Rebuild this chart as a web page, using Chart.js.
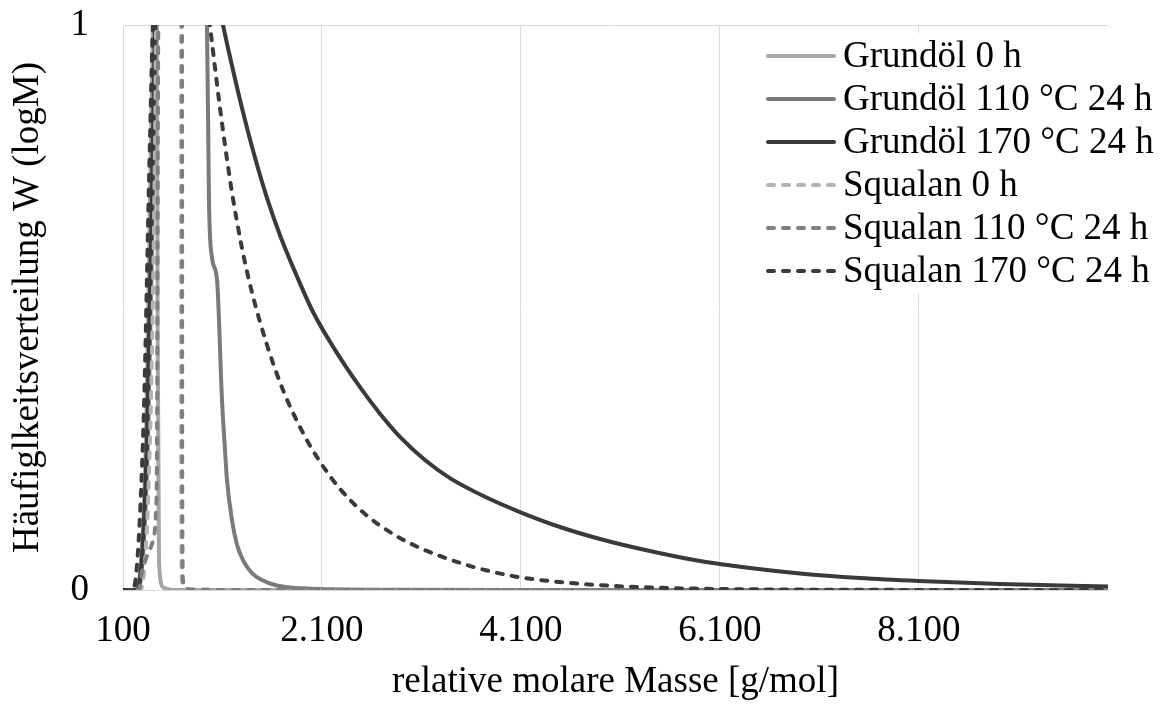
<!DOCTYPE html>
<html>
<head>
<meta charset="utf-8">
<script src="https://cdn.jsdelivr.net/npm/chart.js@4"></script>
<style>
  body { margin: 0; background: #fff; }
  #wrap { width: 1165px; height: 704px; }
</style>
</head>
<body>
<div id="wrap"><canvas id="chart"></canvas></div>
<script>
const seriesNames = ['Grundöl 0 h', 'Grundöl 110 °C 24 h', 'Grundöl 170 °C 24 h',
                     'Squalan 0 h', 'Squalan 110 °C 24 h', 'Squalan 170 °C 24 h'];

const xTicks = [100, 2100, 4100, 6100, 8100];
const yTicks = [0, 1];

// values (peaks are above the axis top and get clipped)
const grundoel0X = [100, 231, 331, 381, 401, 421, 442, 447, 462, 502, 600, 10000];
const grundoel0Y = [0, 0, 0.265, 0.796, 1.0, 1.3, 1.0, 0.5, 0.05, 0.005, 0, 0];

const grundoel110X = [100, 251, 351, 412, 432, 690, 944, 964, 994, 1045, 1095, 1125, 1145, 1195, 1246, 1306, 1396, 1497, 1628, 1778, 2080, 2884, 4000, 10000];
const grundoel110Y = [0, 0, 0.265, 0.796, 1.0, 1.45, 1.0, 0.69, 0.589, 0.549, 0.336, 0.248, 0.195, 0.124, 0.080, 0.053, 0.030, 0.0177, 0.0088, 0.0044, 0.0018, 0.0005, 0.0001, 0];

const grundoel170X = [100, 241, 341, 401, 422, 600, 900, 1005, 1105, 1206, 1306, 1427, 1547, 1678, 1829, 2010, 2231, 2482, 2683, 2884, 3135, 3386, 3738, 4090, 4492, 4894, 5396, 5899, 6401, 6904, 7507, 8100, 8914, 10000];
const grundoel170Y = [0, 0, 0.265, 0.796, 1.0, 1.5, 1.25, 1.09, 1.0, 0.920, 0.846, 0.765, 0.694, 0.628, 0.563, 0.492, 0.425, 0.359, 0.312, 0.271, 0.230, 0.198, 0.165, 0.138, 0.1115, 0.0903, 0.069, 0.0513, 0.0389, 0.0292, 0.0212, 0.0159, 0.0106, 0.0062];

const squalan0X = [100, 271, 371, 422, 432, 560, 683, 685, 693, 713, 773, 1075, 10000];
const squalan0Y = [0, 0, 0.265, 0.796, 1.0, 1.4, 1.0, 0.2, 0.018, 0.005, 0.001, 0.0002, 0];

const squalan110X = [100, 261, 291, 351, 401, 432, 442, 450, 455, 570, 693, 695, 703, 723, 773, 1075, 10000];
const squalan110Y = [0, 0, 0.032, 0.065, 0.088, 0.142, 0.265, 0.796, 1.0, 1.4, 1.0, 0.2, 0.018, 0.005, 0.001, 0.0002, 0];

const squalan170X = [100, 200, 301, 371, 401, 650, 900, 974, 1025, 1075, 1135, 1195, 1296, 1396, 1547, 1708, 1909, 2080, 2281, 2532, 2814, 3085, 3286, 3537, 3758, 4040, 4291, 4592, 4894, 5396, 5899, 6904, 7909, 10000];
const squalan170Y = [0, 0, 0.265, 0.796, 1.0, 1.5, 1.12, 1.0, 0.924, 0.853, 0.775, 0.704, 0.605, 0.527, 0.434, 0.354, 0.278, 0.227, 0.179, 0.1345, 0.0991, 0.0743, 0.0602, 0.0451, 0.0345, 0.0239, 0.0177, 0.0124, 0.0085, 0.0044, 0.0023, 0.0007, 0.0002, 0];

const seriesX = [grundoel0X, grundoel110X, grundoel170X, squalan0X, squalan110X, squalan170X];
const seriesY = [grundoel0Y, grundoel110Y, grundoel170Y, squalan0Y, squalan110Y, squalan170Y];
const lineColors = ['#a6a6a6', '#7a7a7a', '#3a3a3a', '#b3b3b3', '#7f7f7f', '#3a3a3a'];
const dashed = [false, false, false, true, true, true];

const FONT = 'Liberation Serif';
const FSIZE = 37;

function fmtDe(v) {
    return String(v).replace(/\B(?=(\d{3})+(?!\d))/g, '.');
}

const datasets = seriesNames.map((name, i) => ({
    label: name,
    data: seriesX[i].map((x, k) => ({ x: x, y: seriesY[i][k] })),
    borderColor: lineColors[i],
    borderWidth: 4,
    borderDash: dashed[i] ? [6, 9] : [],
    borderCapStyle: 'round',
    pointRadius: 0,
    cubicInterpolationMode: 'monotone',
    fill: false,
    order: seriesNames.length - i   // later series on top, like the original
}));

// legend drawn by hand: white box over the plot, long line samples
const legendBox = {
    id: 'legendBox',
    afterDatasetsDraw(chart) {
        const ctx = chart.ctx;
        ctx.save();
        ctx.fillStyle = '#fff';
        ctx.fillRect(758, 33, 407, 260);
        ctx.font = FSIZE + 'px "' + FONT + '"';
        ctx.textBaseline = 'middle';
        chart.data.datasets.forEach((ds, i) => {
            const y = 56 + i * 43;
            ctx.strokeStyle = ds.borderColor;
            ctx.lineWidth = ds.borderWidth;
            ctx.lineCap = 'round';
            ctx.setLineDash(ds.borderDash);
            ctx.beginPath();
            ctx.moveTo(768, y);
            ctx.lineTo(834, y);
            ctx.stroke();
            ctx.setLineDash([]);
            ctx.fillStyle = '#000';
            ctx.fillText(ds.label, 843, y + 1);
        });
        ctx.restore();
    }
};

const ctx = document.getElementById('chart').getContext('2d');
new Chart(ctx, {
    type: 'line',
    data: { datasets: datasets },
    options: {
        responsive: true,
        maintainAspectRatio: false,
        animation: false,
        layout: { padding: { top: 25, right: 57, left: 0, bottom: 0 } },
        plugins: {
            legend: { display: false },
            tooltip: { enabled: false }
        },
        scales: {
            x: {
                type: 'linear',
                min: 100,
                max: 10000,
                afterBuildTicks: (scale) => { scale.ticks = xTicks.map(v => ({ value: v })); },
                afterFit: (scale) => {
                    scale.height = 114;
                    scale.paddingLeft = 0;
                    scale.paddingRight = 0;
                },
                grid: { color: '#d9d9d9', lineWidth: 1, drawTicks: false },
                border: { display: false },
                ticks: {
                    padding: 19,
                    color: '#000',
                    maxRotation: 0,
                    autoSkip: false,
                    font: { family: FONT, size: FSIZE },
                    callback: (v) => fmtDe(v)
                },
                title: {
                    display: true,
                    text: 'relative molare Masse [g/mol]',
                    color: '#000',
                    font: { family: FONT, size: FSIZE },
                    padding: { top: 0, bottom: 0 }
                }
            },
            y: {
                min: 0,
                max: 1,
                afterBuildTicks: (scale) => { scale.ticks = yTicks.map(v => ({ value: v })); },
                afterFit: (scale) => {
                    scale.width = 123;
                    scale.paddingTop = 0;
                    scale.paddingBottom = 0;
                },
                grid: { color: '#d9d9d9', lineWidth: 1, drawTicks: false },
                border: { display: false },
                ticks: {
                    padding: 34,
                    color: '#000',
                    font: { family: FONT, size: FSIZE },
                    callback: (v) => String(v)
                },
                title: {
                    display: true,
                    text: 'Häufiglkeitsverteilung W (logM)',
                    color: '#000',
                    font: { family: FONT, size: FSIZE },
                    padding: { top: 6, bottom: 0 }
                }
            }
        }
    },
    plugins: [legendBox]
});
</script>
</body>
</html>
